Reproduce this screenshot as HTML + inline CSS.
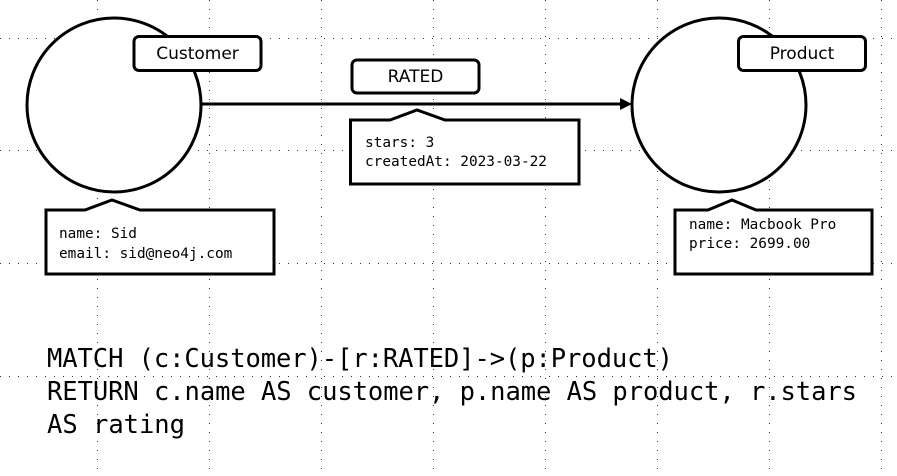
<!DOCTYPE html>
<html><head><meta charset="utf-8"><style>
html,body{margin:0;padding:0;background:#fff;}
svg{display:block;}
.m{font-family:"DejaVu Sans Mono","Liberation Mono",monospace;font-size:14.4px;fill:#000;}
.l{font-family:"DejaVu Sans","Liberation Sans",sans-serif;font-size:17px;fill:#000;}
.c{font-family:"DejaVu Sans Mono","Liberation Mono",monospace;font-size:25.5px;fill:#000;}
</style></head><body>
<svg width="897" height="476" viewBox="0 0 897 476" xmlns="http://www.w3.org/2000/svg">
<g stroke="#000" stroke-width="1" stroke-dasharray="1 8" opacity="0.8">
<line x1="0" y1="38.5" x2="897" y2="38.5"/>
<line x1="0" y1="150.5" x2="897" y2="150.5"/>
<line x1="0" y1="263.5" x2="897" y2="263.5"/>
<line x1="0" y1="376.5" x2="897" y2="376.5"/>
<line x1="97.5" y1="0" x2="97.5" y2="476"/>
<line x1="209.5" y1="0" x2="209.5" y2="476"/>
<line x1="321.5" y1="0" x2="321.5" y2="476"/>
<line x1="433.5" y1="0" x2="433.5" y2="476"/>
<line x1="545.5" y1="0" x2="545.5" y2="476"/>
<line x1="657.5" y1="0" x2="657.5" y2="476"/>
<line x1="769.5" y1="0" x2="769.5" y2="476"/>
<line x1="881.5" y1="0" x2="881.5" y2="476"/>
</g>
<g fill="#fff" stroke="#000" stroke-width="3">
<circle cx="114" cy="105" r="87"/>
<circle cx="719" cy="105" r="87"/>
<line x1="202" y1="104" x2="622" y2="104"/>
</g>
<polygon points="620,98 632,104 620,110" fill="#000"/>
<g fill="#fff" stroke="#000" stroke-width="3">
<rect x="134" y="36.5" width="127" height="34" rx="5"/>
<rect x="738.5" y="36.5" width="127" height="34" rx="5"/>
<rect x="352" y="60" width="127" height="33" rx="5"/>
<path d="M46,210 H85 L112,200 L140,210 H274 V274 H46 Z"/>
<path d="M350.5,120 H390 L417,110 L445,120 H579 V184 H350.5 Z"/>
<path d="M675,210 H708 L732,200 L756,210 H872 V274 H675 Z"/>
</g>
<text class="l" x="197.5" y="59" text-anchor="middle">Customer</text>
<text class="l" x="802" y="59" text-anchor="middle">Product</text>
<text class="l" x="415.5" y="82" text-anchor="middle">RATED</text>
<text class="m" x="59" y="238">name: Sid</text>
<text class="m" x="59" y="258">email: sid@neo4j.com</text>
<text class="m" x="365" y="147">stars: 3</text>
<text class="m" x="365" y="166">createdAt: 2023-03-22</text>
<text class="m" x="689" y="229">name: Macbook Pro</text>
<text class="m" x="689" y="248">price: 2699.00</text>
<text class="c" x="47" y="367" textLength="626">MATCH (c:Customer)-[r:RATED]->(p:Product)</text>
<text class="c" x="47" y="400" textLength="810">RETURN c.name AS customer, p.name AS product, r.stars</text>
<text class="c" x="47" y="433" textLength="138">AS rating</text>
</svg>
</body></html>
